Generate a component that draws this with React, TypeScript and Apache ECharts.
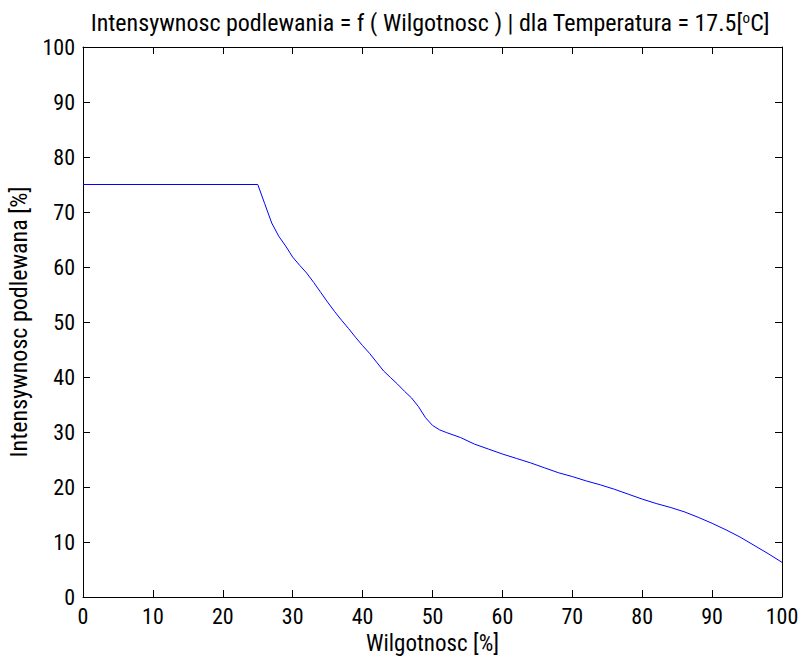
import React, { useEffect, useRef } from "react";
import * as echarts from "echarts";

const humidity = [0, 25, 26, 27, 28, 29, 30, 31, 32, 33, 34, 35, 36, 37, 38, 39, 40, 41, 42, 43, 44, 45, 46, 47, 48, 49, 50, 51, 52, 54, 56, 58, 60, 62, 64, 66, 68, 70, 72, 74, 76, 78, 80, 82, 84, 86, 88, 90, 92, 94, 96, 98, 100];
const intensity = [75, 75, 71.5, 68, 65.6, 63.8, 61.8, 60.3, 58.9, 57.2, 55.4, 53.6, 51.9, 50.3, 48.8, 47.2, 45.7, 44.3, 42.7, 41.1, 39.9, 38.7, 37.4, 36.2, 34.6, 32.6, 31.2, 30.4, 29.9, 29.0, 27.8, 26.9, 26.0, 25.2, 24.4, 23.5, 22.6, 21.9, 21.1, 20.4, 19.6, 18.7, 17.8, 17.0, 16.3, 15.5, 14.5, 13.4, 12.2, 10.9, 9.4, 7.9, 6.3];

const titleText = "Intensywnosc podlewania = f ( Wilgotnosc ) | dla Temperatura = 17.5[{sup|o}C]";
const xName = "Wilgotnosc [%]";
const yName = "Intensywnosc podlewana [%]";

const FONT = "'Roboto Condensed', 'DejaVu Sans Condensed', sans-serif";

export default function App() {
  const ref = useRef<HTMLDivElement>(null);
  useEffect(() => {
    if (!ref.current) return;
    const chart = echarts.init(ref.current, undefined, { renderer: "svg" });
    const data = humidity.map((h, i) => [h, intensity[i]]);
    const axisCommon = {
      type: "value" as const,
      min: 0,
      max: 100,
      interval: 10,
      splitLine: { show: false },
      axisLine: { show: true, onZero: false, lineStyle: { color: "#000", width: 1 } },
      axisTick: { show: true, inside: true, length: 7, lineStyle: { color: "#000" } },
    };
    chart.setOption({
      animation: false,
      backgroundColor: "#fff",
      textStyle: { fontFamily: FONT },
      title: {
        text: titleText,
        left: 425,
        top: 5,
        textAlign: "center",
        textStyle: {
          fontFamily: FONT,
          fontSize: 24,
          fontWeight: "normal",
          color: "#000",
          rich: {
            sup: { fontFamily: FONT, fontSize: 15, verticalAlign: "top", padding: [0, 0, 10, 0], color: "#000" },
          },
        },
      },
      grid: { left: 83, top: 47, width: 699, height: 550, containLabel: false, outerBoundsMode: "none" },
      xAxis: [
        {
          ...axisCommon,
          position: "bottom",
          name: xName,
          nameLocation: "middle",
          nameGap: 31,
          nameTextStyle: { fontFamily: FONT, fontSize: 23, color: "#000" },
          axisLabel: { show: true, margin: 8, fontFamily: FONT, fontSize: 22, color: "#000" },
        },
        {
          ...axisCommon,
          position: "top",
          axisLabel: { show: false },
        },
      ],
      yAxis: [
        {
          ...axisCommon,
          position: "left",
          name: yName,
          nameLocation: "middle",
          nameGap: 52,
          nameTextStyle: { fontFamily: FONT, fontSize: 24, color: "#000" },
          axisLabel: { show: true, margin: 8, fontFamily: FONT, fontSize: 22, color: "#000" },
        },
        {
          ...axisCommon,
          position: "right",
          axisLabel: { show: false },
        },
      ],
      series: [
        {
          type: "line",
          data,
          xAxisIndex: 0,
          yAxisIndex: 0,
          showSymbol: false,
          symbol: "none",
          lineStyle: { color: "#0000ff", width: 1 },
        },
      ],
    });
    return () => chart.dispose();
  }, []);
  return <div ref={ref} style={{ position: "fixed", left: 0, top: 0, width: 799, height: 657 }} />;
}
